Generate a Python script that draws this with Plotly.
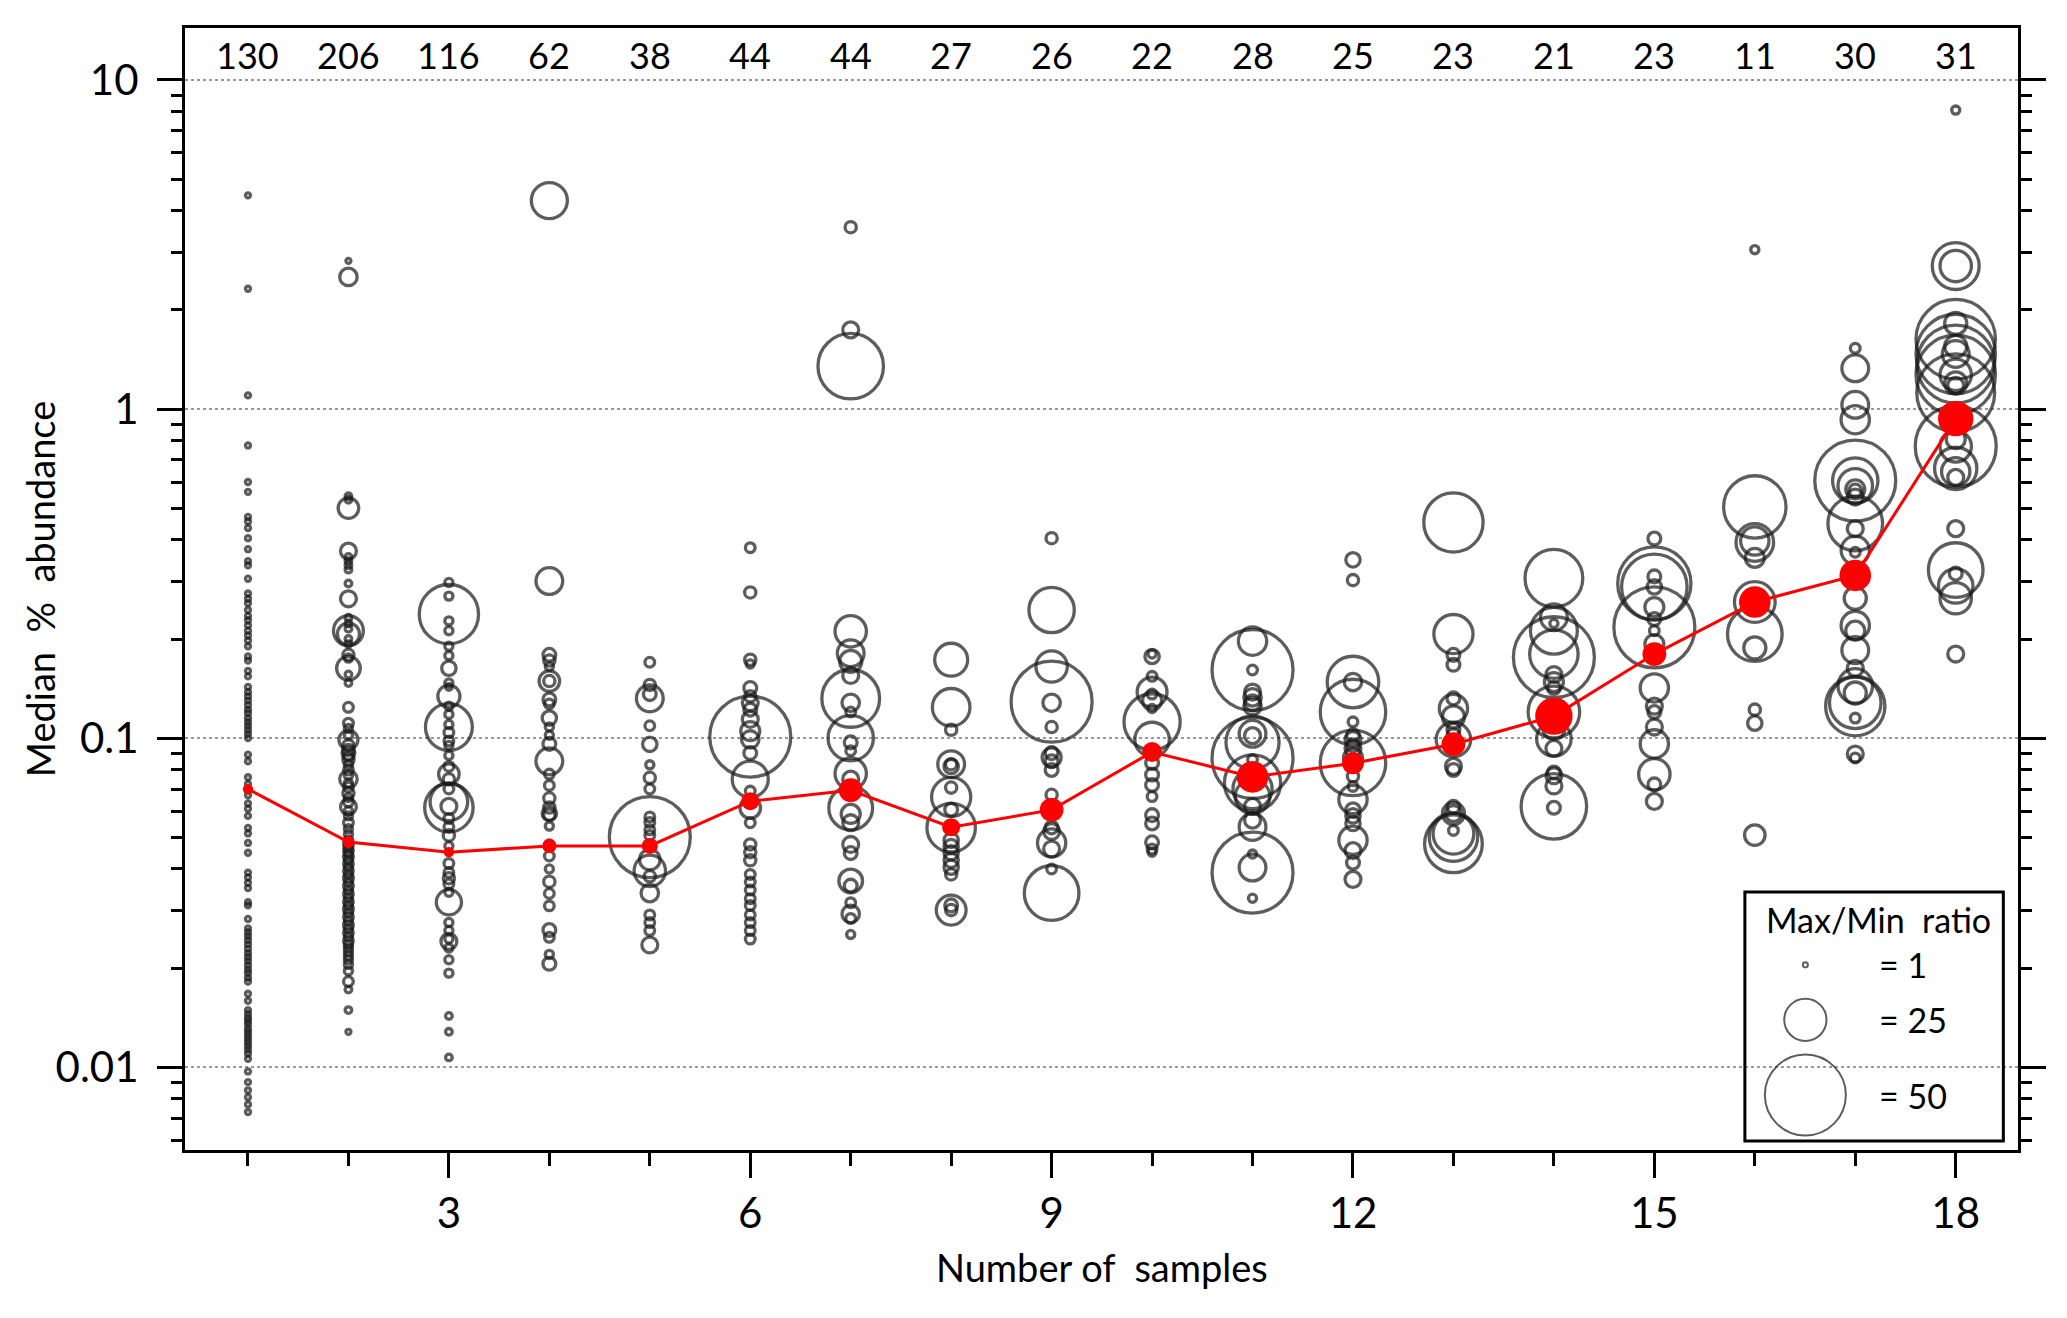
import plotly.graph_objects as go

# group sizes shown along the top of the panel
n_samples = list(range(1, 19))
group_counts = [130, 206, 116, 62, 38, 44, 44, 27, 26, 22, 28, 25, 23, 21, 23, 11, 30, 31]

# median % abundance of every group (red line) and the max/min ratio used for its dot
group_median = [0.070, 0.0483, 0.045, 0.047, 0.047, 0.0643, 0.0694, 0.0536, 0.0605,
                0.0907, 0.0762, 0.0838, 0.0958, 0.1166, 0.180, 0.259, 0.312, 0.935]
group_median_ratio = [2, 3, 2, 4, 5, 6, 9, 6, 9, 7, 13, 8, 9, 16, 9, 13, 13, 15]

# (median % abundance, max/min ratio) for each taxon, one list per number of samples
col01 = [(4.46, 1), (2.32, 1), (1.1, 1), (0.775, 1), (0.6, 1), (0.56, 1), (0.47, 1), (0.455, 1),
         (0.435, 1), (0.405, 1), (0.375, 1), (0.345, 1), (0.335, 1), (0.305, 1), (0.275, 1),
         (0.265, 1), (0.257, 1), (0.245, 1), (0.235, 1), (0.228, 1), (0.22, 1), (0.212, 1),
         (0.205, 1), (0.198, 1), (0.19, 1), (0.177, 1), (0.172, 1), (0.16, 1), (0.154, 1),
         (0.143, 1), (0.138, 1), (0.134, 1), (0.13, 1), (0.126, 1), (0.122, 1), (0.119, 1),
         (0.115, 1), (0.112, 1), (0.109, 1), (0.106, 1), (0.103, 1), (0.1, 1), (0.089, 1),
         (0.085, 1), (0.076, 1), (0.0725, 1), (0.0695, 1), (0.067, 1), (0.0633, 1), (0.061, 1),
         (0.058, 1), (0.0533, 1), (0.0513, 1), (0.048, 1), (0.0448, 1), (0.039, 1), (0.0377, 1),
         (0.0363, 1), (0.035, 1), (0.0317, 1), (0.031, 1), (0.0282, 1), (0.0264, 1), (0.0257, 1),
         (0.025, 1), (0.0243, 1), (0.0236, 1), (0.0229, 1), (0.0222, 1), (0.0216, 1), (0.021, 1),
         (0.0204, 1), (0.0198, 1), (0.0193, 1), (0.0187, 1), (0.0182, 1), (0.0167, 1), (0.0159, 1),
         (0.0149, 1), (0.0145, 1), (0.0141, 1), (0.0138, 1), (0.0135, 1), (0.0131, 1), (0.0128, 1),
         (0.0125, 1), (0.0122, 1), (0.0119, 1), (0.0116, 1), (0.0113, 1), (0.011, 1), (0.0106, 1),
         (0.0097, 1), (0.009, 1), (0.0085, 1), (0.0081, 1), (0.0077, 1), (0.0073, 1)]
col02 = [(2.82, 1), (2.52, 9), (0.543, 2), (0.53, 2), (0.50, 11), (0.37, 8), (0.355, 2), (0.345, 2),
         (0.335, 2), (0.325, 2), (0.295, 2), (0.265, 8), (0.232, 2), (0.223, 2), (0.215, 2),
         (0.212, 17), (0.207, 12), (0.20, 2), (0.193, 2), (0.179, 5), (0.175, 3), (0.163, 13),
         (0.156, 2), (0.147, 2), (0.124, 4), (0.111, 4), (0.107, 3), (0.102, 3), (0.0988, 10),
         (0.095, 5), (0.092, 5), (0.09, 6), (0.088, 4), (0.086, 5), (0.083, 3), (0.08, 4),
         (0.077, 3), (0.075, 9), (0.073, 3), (0.071, 4), (0.068, 5), (0.066, 3), (0.064, 4),
         (0.0618, 8), (0.06, 3), (0.058, 3), (0.0553, 4), (0.053, 3), (0.051, 3), (0.049, 3),
         (0.0475, 4), (0.0465, 3), (0.0455, 4), (0.0445, 3), (0.0435, 4), (0.0425, 3), (0.0415, 4),
         (0.0405, 3), (0.0395, 4), (0.0385, 3), (0.0375, 4), (0.0365, 3), (0.0355, 4), (0.0345, 3),
         (0.0336, 4), (0.0327, 3), (0.0318, 4), (0.031, 3), (0.0302, 4), (0.0294, 3), (0.0286, 4),
         (0.0278, 3), (0.027, 4), (0.0263, 3), (0.0256, 4), (0.0249, 3), (0.0242, 4), (0.0236, 3),
         (0.023, 3), (0.0224, 3), (0.0218, 3), (0.0212, 3), (0.0205, 3), (0.0196, 3), (0.0182, 4),
         (0.0172, 2), (0.0149, 2), (0.0128, 1)]
col03 = [(0.297, 3), (0.27, 3), (0.238, 36), (0.227, 3), (0.212, 3), (0.19, 3), (0.178, 3),
         (0.163, 7), (0.147, 3), (0.143, 2), (0.134, 12), (0.125, 3), (0.118, 3), (0.11, 3),
         (0.108, 28), (0.104, 4), (0.098, 4), (0.095, 3), (0.0885, 3), (0.082, 4), (0.0777, 11),
         (0.075, 5), (0.07, 4), (0.064, 22), (0.0614, 29), (0.062, 8), (0.057, 4), (0.0537, 4),
         (0.0506, 5), (0.047, 3), (0.0416, 4), (0.039, 4), (0.0375, 5), (0.036, 4), (0.034, 3),
         (0.0317, 14), (0.0275, 3), (0.026, 3), (0.0245, 3), (0.0241, 8), (0.023, 3), (0.0212, 3),
         (0.0193, 3), (0.0143, 2), (0.0128, 2), (0.0107, 2)]
col04 = [(4.3, 21), (0.3, 15), (0.179, 6), (0.172, 5), (0.165, 3), (0.149, 11), (0.149, 5),
         (0.131, 6), (0.127, 4), (0.115, 7), (0.108, 3), (0.102, 3), (0.096, 6), (0.085, 15),
         (0.0777, 4), (0.0718, 4), (0.0656, 5), (0.0615, 5), (0.059, 7), (0.0585, 5), (0.054, 3),
         (0.0474, 4), (0.0438, 4), (0.040, 3), (0.0366, 5), (0.0337, 4), (0.0309, 4), (0.0261, 6),
         (0.0248, 4), (0.022, 3), (0.0206, 6)]
col05 = [(0.17, 4), (0.145, 5), (0.136, 6), (0.132, 15), (0.109, 4), (0.0957, 7), (0.0829, 3),
         (0.0757, 5), (0.070, 4), (0.0576, 4), (0.0554, 4), (0.0526, 4), (0.0506, 4), (0.05, 50),
         (0.047, 3), (0.0427, 11), (0.0395, 18), (0.038, 5), (0.0338, 9), (0.029, 4), (0.0275, 4),
         (0.026, 4), (0.0235, 8)]
col06 = [(0.379, 4), (0.277, 5), (0.173, 5), (0.168, 3), (0.142, 6), (0.134, 5), (0.128, 8),
         (0.122, 6), (0.114, 8), (0.105, 10), (0.101, 50), (0.099, 9), (0.09, 6), (0.075, 21),
         (0.069, 4), (0.0613, 11), (0.0553, 4), (0.0475, 5), (0.045, 5), (0.0425, 5), (0.0385, 4),
         (0.0365, 4), (0.0345, 4), (0.0325, 4), (0.031, 4), (0.029, 4), (0.0275, 4), (0.026, 4),
         (0.0245, 4)]
col07 = [(3.57, 5), (1.74, 8), (1.35, 40), (0.211, 18), (0.181, 15), (0.171, 12), (0.155, 8),
         (0.132, 35), (0.128, 9), (0.12, 4), (0.1, 27), (0.097, 6), (0.0915, 4), (0.078, 18),
         (0.075, 8), (0.0694, 6), (0.0613, 26), (0.0588, 10), (0.0553, 8), (0.0475, 8), (0.0447, 6),
         (0.0368, 13), (0.0356, 6), (0.0316, 4), (0.0292, 9), (0.0283, 4), (0.0253, 3)]
col08 = [(0.173, 19), (0.124, 22), (0.106, 5), (0.0833, 15), (0.0833, 5), (0.082, 7), (0.0707, 5),
         (0.0662, 23), (0.0606, 6), (0.0534, 29), (0.0489, 7), (0.0468, 7), (0.0448, 7), (0.0425, 7),
         (0.0405, 7), (0.0385, 5), (0.030, 17), (0.030, 5), (0.031, 6)]
col09 = [(0.405, 5), (0.245, 27), (0.165, 18), (0.129, 50), (0.128, 9), (0.108, 5), (0.09, 6),
         (0.0873, 10), (0.085, 6), (0.08, 6), (0.0672, 5), (0.0535, 6), (0.052, 8), (0.048, 16),
         (0.046, 8), (0.040, 4), (0.0338, 33)]
col10 = [(0.18, 3), (0.177, 7), (0.154, 4), (0.138, 17), (0.136, 4), (0.130, 10), (0.123, 3),
         (0.112, 34), (0.099, 20), (0.084, 6), (0.0774, 6), (0.072, 6), (0.0664, 4), (0.0583, 6),
         (0.055, 6), (0.0482, 6), (0.046, 4), (0.045, 3)]
col11 = [(0.197, 16), (0.161, 50), (0.161, 4), (0.138, 8), (0.133, 9), (0.128, 8), (0.125, 9),
         (0.103, 15), (0.1017, 8), (0.097, 32), (0.087, 50), (0.086, 4), (0.073, 34), (0.070, 23),
         (0.0664, 20), (0.062, 8), (0.0563, 8), (0.0537, 15), (0.0444, 3), (0.0404, 15), (0.039, 50),
         (0.0326, 3)]
col12 = [(0.348, 7), (0.302, 5), (0.148, 31), (0.148, 9), (0.12, 40), (0.112, 4), (0.102, 6),
         (0.099, 8), (0.095, 6), (0.093, 8), (0.087, 10), (0.084, 40), (0.0765, 5), (0.0713, 4),
         (0.065, 16), (0.0604, 7), (0.058, 7), (0.055, 7), (0.0489, 16), (0.0455, 8), (0.0418, 6),
         (0.0372, 8)]
col13 = [(0.452, 36), (0.207, 23), (0.179, 6), (0.167, 6), (0.132, 6), (0.123, 16), (0.116, 12),
         (0.106, 6), (0.102, 6), (0.099, 20), (0.082, 8), (0.080, 6), (0.0618, 6), (0.059, 12),
         (0.059, 8), (0.0524, 4), (0.0512, 24), (0.050, 29), (0.0477, 35)]
col14 = [(0.306, 35), (0.233, 15), (0.223, 3), (0.212, 28), (0.18, 29), (0.176, 50), (0.156, 8),
         (0.148, 10), (0.142, 6), (0.120, 31), (0.107, 12), (0.0995, 20), (0.093, 8), (0.0786, 6),
         (0.0768, 8), (0.0715, 8), (0.062, 40), (0.0614, 6)]
col15 = [(0.404, 6), (0.31, 6), (0.295, 45), (0.288, 40), (0.288, 7), (0.25, 10), (0.23, 6),
         (0.217, 50), (0.212, 4), (0.193, 10), (0.142, 16), (0.125, 8), (0.12, 6), (0.108, 8),
         (0.096, 16), (0.0776, 18), (0.0723, 6), (0.0642, 8)]
col16 = [(3.05, 3), (0.504, 38), (0.397, 16), (0.393, 22), (0.353, 10), (0.259, 24), (0.207, 33),
         (0.188, 12), (0.122, 5), (0.111, 7), (0.0507, 11)]
col17 = [(1.53, 4), (1.33, 15), (1.03, 15), (0.928, 16), (0.606, 50), (0.606, 27), (0.584, 20),
         (0.57, 10), (0.565, 6), (0.54, 8), (0.449, 33), (0.433, 8), (0.372, 16), (0.367, 4),
         (0.266, 12), (0.22, 16), (0.212, 10), (0.185, 15), (0.163, 8), (0.144, 20), (0.137, 12),
         (0.128, 31), (0.125, 36), (0.115, 4), (0.0894, 8), (0.087, 4)]
col18 = [(8.1, 3), (2.72, 28), (2.72, 18), (1.82, 12), (1.63, 49), (1.55, 12), (1.47, 49),
         (1.47, 15), (1.37, 48), (1.27, 49), (1.27, 18), (1.2, 12), (1.18, 8), (1.12, 48),
         (0.81, 10), (0.77, 50), (0.77, 18), (0.66, 25), (0.645, 16), (0.62, 8), (0.433, 8),
         (0.324, 33), (0.316, 6), (0.29, 20), (0.266, 18), (0.18, 8)]

columns = [col01, col02, col03, col04, col05, col06, col07, col08, col09,
           col10, col11, col12, col13, col14, col15, col16, col17, col18]

legend_ratios = [1, 25, 50]
legend_rows = [0.165, 0.116, 0.049]

FONT = "Lato"
INK = "#1a1a1a"


def bubble(ratio):
    # diameter grows linearly with the max/min ratio
    return 3.5 + 1.55 * ratio


xs, ys, sizes = [], [], []
for n, col in zip(n_samples, columns):
    for value, ratio in col:
        xs.append(n)
        ys.append(value)
        sizes.append(bubble(ratio))

fig = go.Figure()

fig.add_trace(go.Scatter(
    x=xs, y=ys, mode="markers",
    marker=dict(size=sizes, color="rgba(0,0,0,0)", line=dict(color=INK, width=3.3)),
    showlegend=False, hoverinfo="skip",
))

fig.add_trace(go.Scatter(
    x=n_samples, y=group_median, mode="lines+markers",
    line=dict(color="#ff0000", width=3),
    marker=dict(size=[bubble(r) * 1.25 + 2 for r in group_median_ratio], color="#ff0000",
                opacity=1, line=dict(width=0)),
    showlegend=False,
))

# size key drawn on an overlay axis in plot-fraction units
fig.add_trace(go.Scatter(
    x=[0.884] * len(legend_ratios), y=legend_rows,
    xaxis="x2", yaxis="y2", mode="markers",
    marker=dict(size=[bubble(r) for r in legend_ratios], color="rgba(0,0,0,0)",
                line=dict(color=INK, width=2)),
    showlegend=False, hoverinfo="skip",
))

fig.add_shape(type="rect", xref="paper", yref="paper", x0=0.851, x1=0.992, y0=0.008, y1=0.23,
              line=dict(color="black", width=3))

annotations = []
for n, c in zip(n_samples, group_counts):
    annotations.append(dict(x=n, y=0.976, xref="x", yref="paper", text=str(c), showarrow=False,
                            font=dict(size=36, color="black", family=FONT), yanchor="middle"))

annotations.append(dict(x=0.924, y=0.205, xref="paper", yref="paper", text="Max/Min  ratio",
                        showarrow=False, xanchor="center", yanchor="middle",
                        font=dict(size=34, color="black", family=FONT)))
for r, yy in zip(legend_ratios, legend_rows):
    annotations.append(dict(x=0.923, y=yy, xref="paper", yref="paper", text="= " + str(r),
                            showarrow=False, xanchor="left", yanchor="middle",
                            font=dict(size=34, color="black", family=FONT)))

annotations.append(dict(x=0.5, y=-0.104, xref="paper", yref="paper", text="Number of  samples",
                        showarrow=False, xanchor="center", yanchor="middle",
                        font=dict(size=38, color="black", family=FONT)))
annotations.append(dict(x=-0.079, y=0.5, xref="paper", yref="paper", text="Median  %  abundance",
                        showarrow=False, textangle=-90, xanchor="center", yanchor="middle",
                        font=dict(size=38, color="black", family=FONT)))

minor_y = [m * 10 ** e for e in range(-3, 2) for m in range(2, 10)]

fig.update_layout(
    width=2051, height=1302,
    margin=dict(l=177, r=41, t=20, b=160),
    paper_bgcolor="white", plot_bgcolor="white",
    font=dict(family=FONT, color="black"),
    annotations=annotations,
    xaxis=dict(
        range=[0.373, 18.62], showgrid=False, zeroline=False,
        showline=True, linecolor="black", linewidth=3, mirror=True,
        tickmode="array", tickvals=[3, 6, 9, 12, 15, 18],
        ticks="outside", ticklen=25, tickwidth=3, tickcolor="black",
        tickfont=dict(size=42, family=FONT), ticklabelstandoff=0,
        minor=dict(tickmode="array", tickvals=n_samples, ticks="outside",
                   ticklen=13, tickwidth=3, tickcolor="black", showgrid=False),
    ),
    yaxis=dict(
        type="log", range=[-2.252, 1.158], zeroline=False,
        showline=True, linecolor="black", linewidth=3, mirror="ticks",
        tickmode="array", tickvals=[0.01, 0.1, 1, 10], ticktext=["0.01", "0.1", "1", "10"],
        ticks="outside", ticklen=25, tickwidth=3, tickcolor="black",
        tickfont=dict(size=42, family=FONT), ticklabelstandoff=10,
        showgrid=True, gridcolor="#999999", gridwidth=1.5, griddash="dot",
        minor=dict(tickmode="array", tickvals=minor_y, ticks="outside",
                   ticklen=11, tickwidth=3, tickcolor="black", showgrid=False),
    ),
    xaxis2=dict(range=[0, 1], overlaying="x", visible=False, fixedrange=True),
    yaxis2=dict(range=[0, 1], overlaying="y", visible=False, fixedrange=True),
)

fig.write_html("out.html")
